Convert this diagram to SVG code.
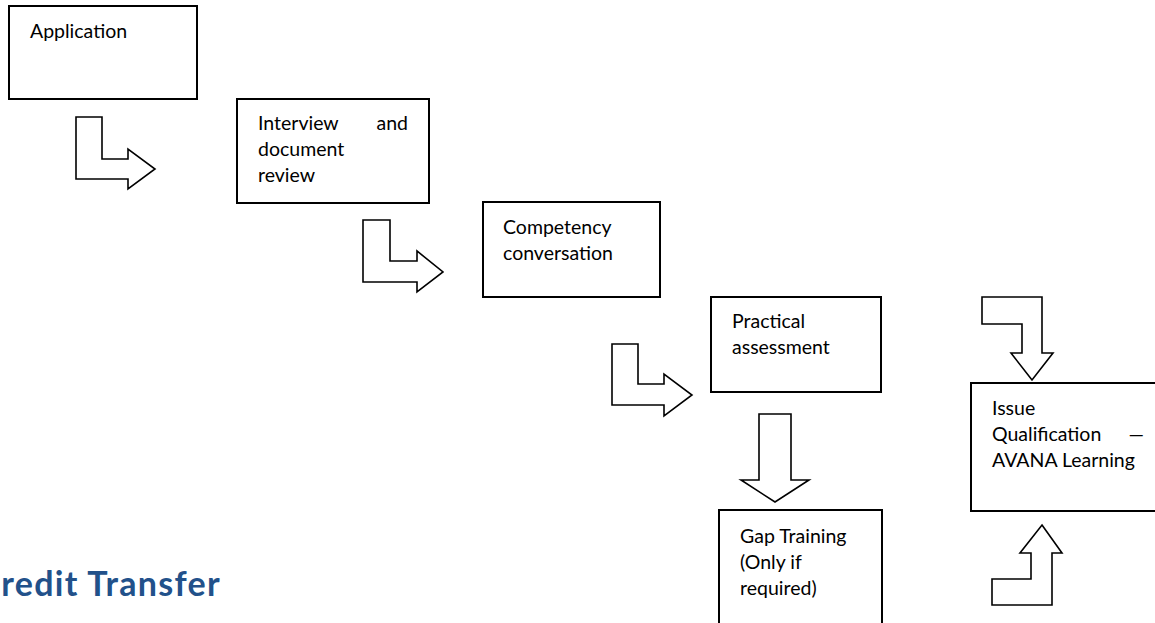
<svg xmlns="http://www.w3.org/2000/svg" width="1155" height="623" viewBox="0 0 1155 623">
<style>
.box{fill:#fff;stroke:#000;stroke-width:2}
.arr{fill:#fff;stroke:#000;stroke-width:1.6;stroke-linejoin:miter}
.t{font-family:Lato,"Liberation Sans",sans-serif;font-size:19.5px;fill:#000}
.title{font-family:Lato,"Open Sans",sans-serif;font-weight:bold;font-size:34px;letter-spacing:1.3px;fill:#22518A}
</style>
<rect width="1155" height="623" fill="#fff"/>
<g id="connectors">
<polygon class="arr" points="76,117 102,117 102,159 128,159 128,149 155,169 128,189 128,179 76,179"/>
<polygon class="arr" points="363,220 390,220 390,261 417,261 417,251 443,272 417,292 417,282 363,282"/>
<polygon class="arr" points="612,344 638,344 638,384 664,384 664,374 692,395 664,416 664,405 612,405"/>
<polygon class="arr" points="759,414 791,414 791,480 809,480 775,502 741,480 759,480"/>
<polygon class="arr" points="982,297 1042,297 1042,353 1053,353 1032,380 1011,353 1022,353 1022,324 982,324"/>
<polygon class="arr" points="1042,525 1062,553 1052,553 1052,605 992,605 992,579 1031,579 1031,553 1020,553"/>
</g>
<g id="n-application">
<rect class="box" x="9" y="6" width="188" height="93"/>
<text class="t" x="30" y="38">Application</text>
</g>
<g id="n-interview">
<rect class="box" x="237" y="99" width="192" height="104"/>
<text class="t" x="258" y="130">Interview</text>
<text class="t" x="408" y="130" text-anchor="end">and</text>
<text class="t" x="258" y="156">document</text>
<text class="t" x="258" y="182">review</text>
</g>
<g id="n-competency">
<rect class="box" x="483" y="202" width="177" height="95"/>
<text class="t" x="503" y="234">Competency</text>
<text class="t" x="503" y="260">conversation</text>
</g>
<g id="n-practical">
<rect class="box" x="711" y="297" width="170" height="95"/>
<text class="t" x="732" y="328">Practical</text>
<text class="t" x="732" y="354">assessment</text>
</g>
<g id="n-gap">
<rect class="box" x="719" y="510" width="163" height="125"/>
<text class="t" x="740" y="543">Gap Training</text>
<text class="t" x="740" y="569">(Only if</text>
<text class="t" x="740" y="595">required)</text>
</g>
<g id="n-issue">
<rect class="box" x="971" y="383" width="190" height="128"/>
<text class="t" x="992" y="415">Issue</text>
<text class="t" x="992" y="441">Qualification</text>
<text class="t" x="1144" y="441" text-anchor="end">—</text>
<text class="t" x="992" y="467">AVANA Learning</text>
</g>
<text class="title" x="221" y="596" text-anchor="end">Credit Transfer</text>
</svg>
